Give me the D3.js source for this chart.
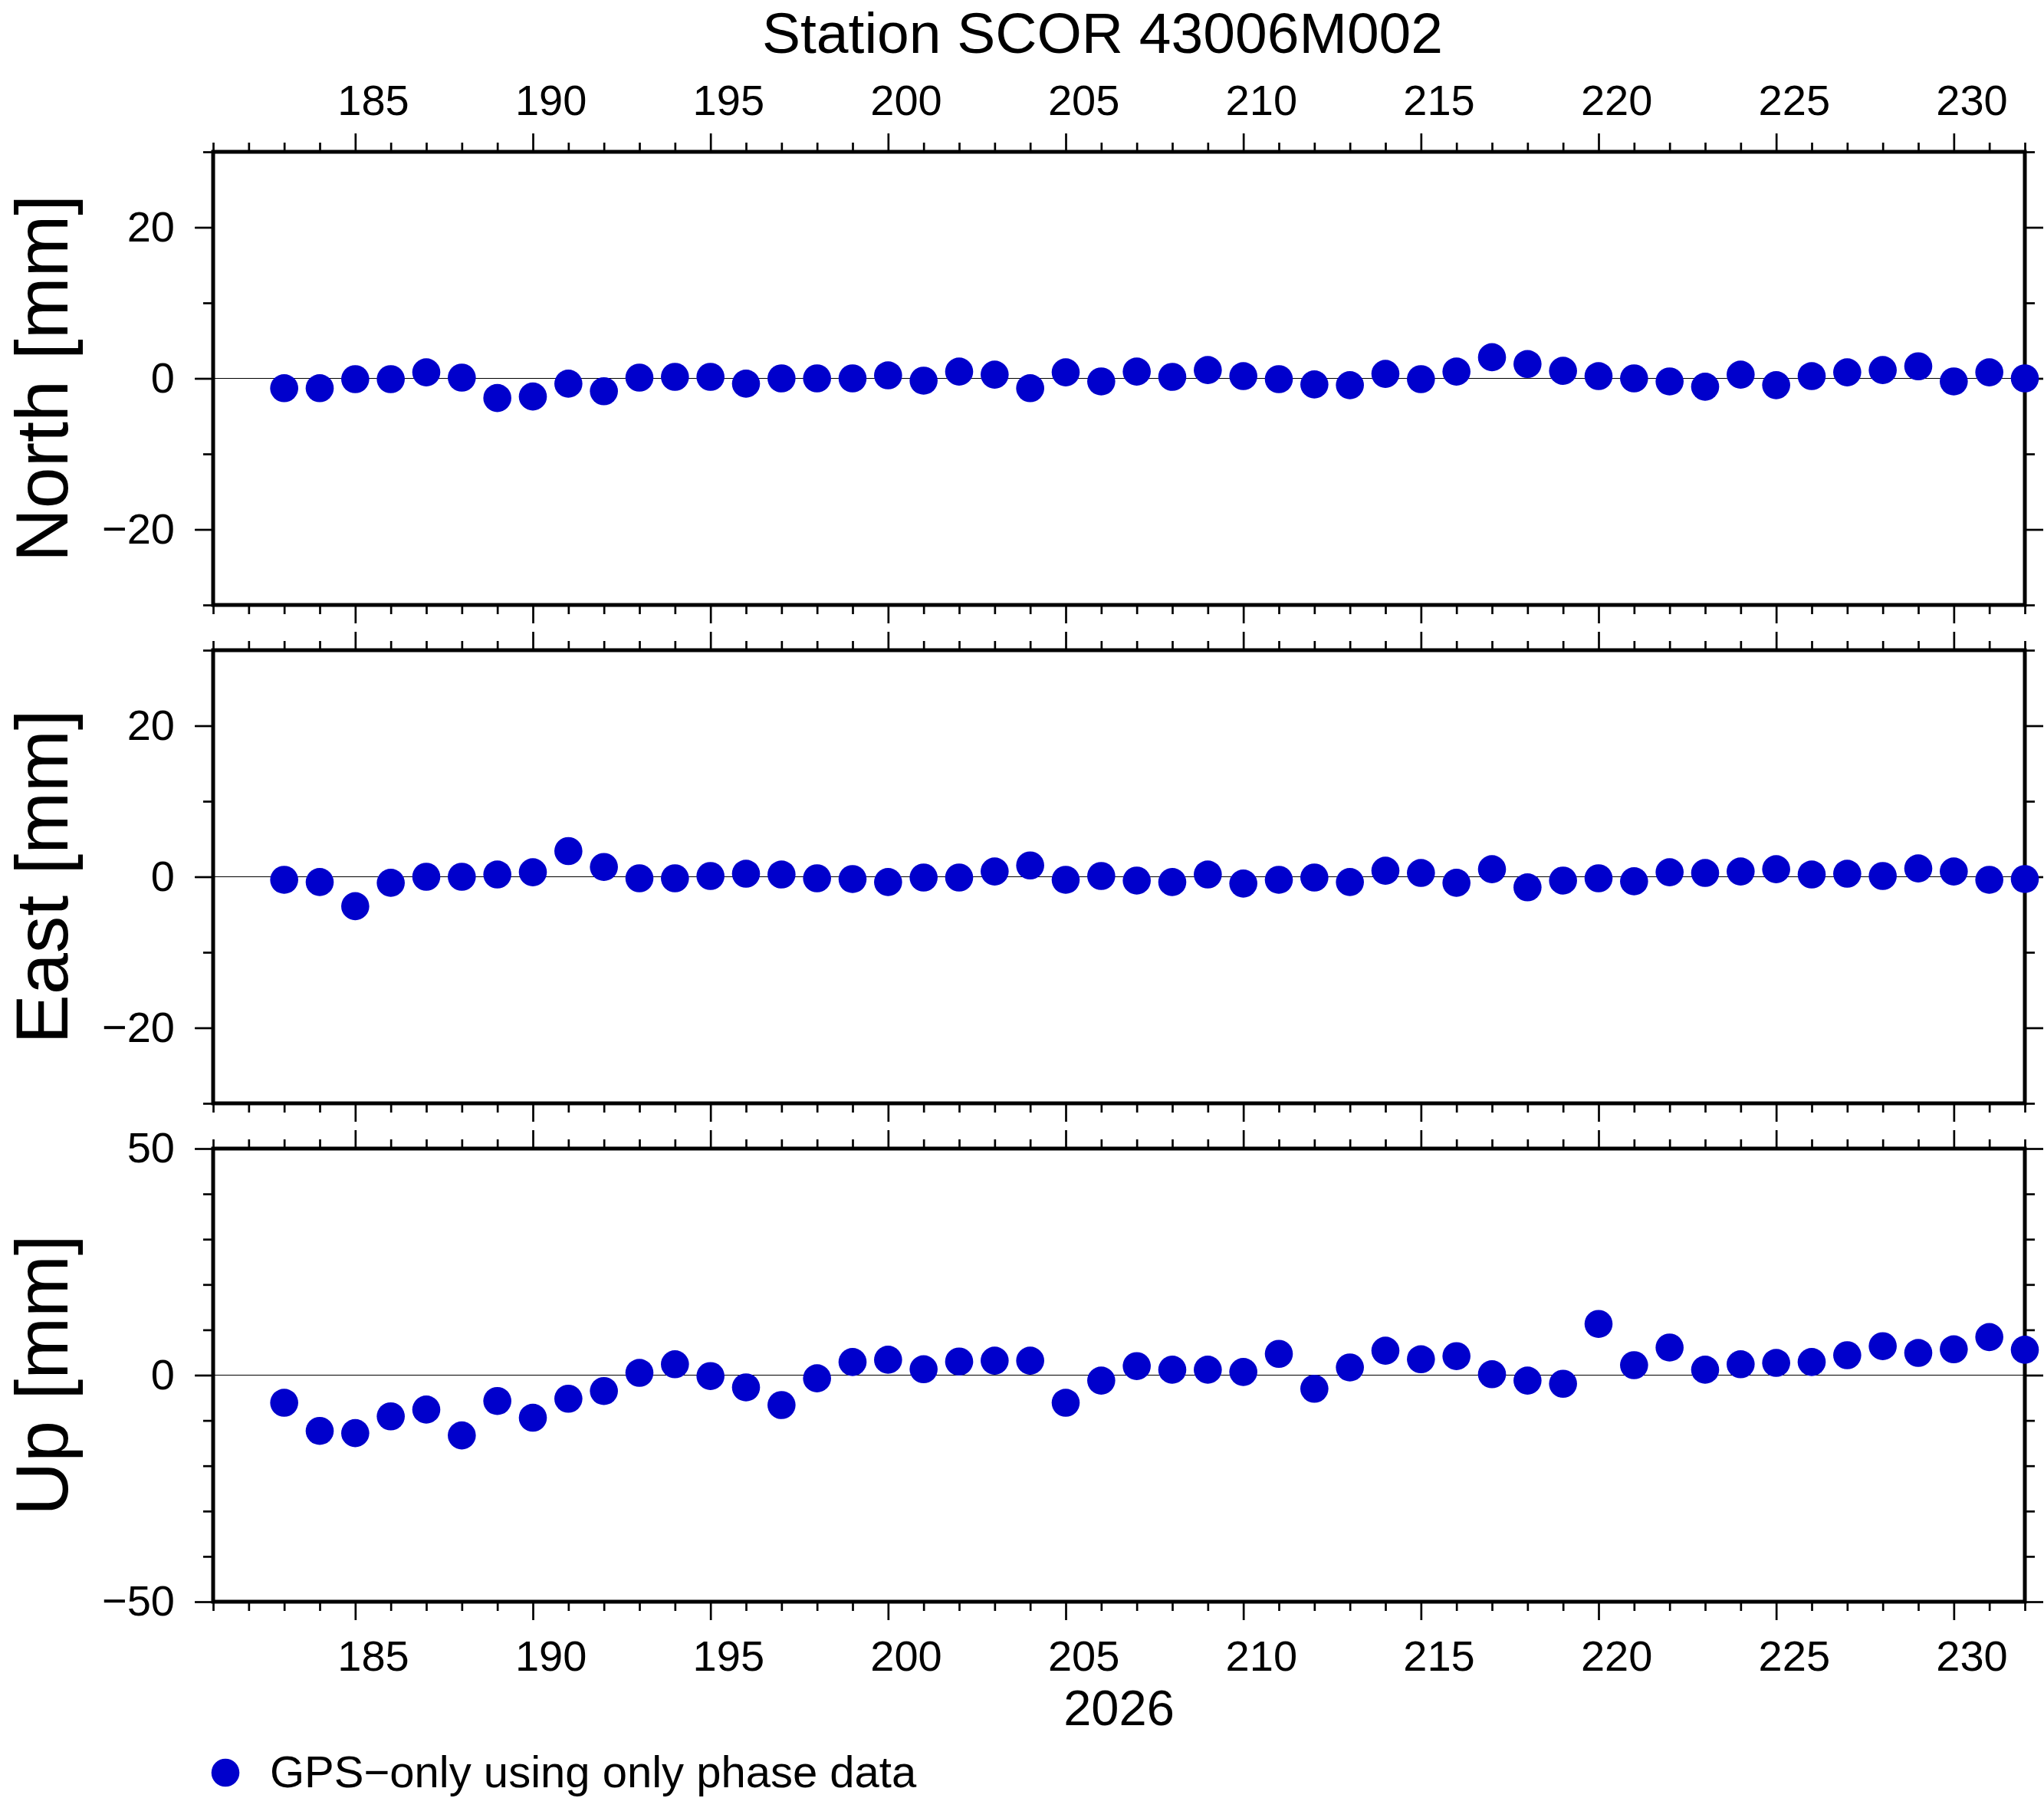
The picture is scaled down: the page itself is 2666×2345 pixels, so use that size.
<!DOCTYPE html>
<html>
<head>
<meta charset="utf-8">
<script src="https://cdn.jsdelivr.net/npm/d3@7/dist/d3.min.js"></script>
<style>
  html, body { margin: 0; padding: 0; background: #ffffff; }
  svg { display: block; }
  text { font-family: "Liberation Sans", Arial, Helvetica, sans-serif; fill: #000; }
</style>
</head>
<body>
<script>
// ---------------- DATA ----------------
const title = "Station SCOR 43006M002";
const yearLabel = "2026";
const legendLabel = "GPS\u2212only using only phase data";

const days = [183,184,185,186,187,188,189,190,191,192,193,194,195,196,197,198,199,200,201,202,
              203,204,205,206,207,208,209,210,211,212,213,214,215,216,217,218,219,220,221,222,
              223,224,225,226,227,228,229,230,231,232];

const north = [-1.3,-1.3,-0.1,-0.1,0.8,0.1,-2.6,-2.4,-0.7,-1.7,0.1,0.2,0.2,-0.7,0.0,0.0,0.0,0.4,-0.3,0.9,
               0.5,-1.3,0.8,-0.4,0.9,0.2,1.1,0.3,-0.1,-0.8,-0.9,0.6,-0.1,0.9,2.8,1.9,1.0,0.3,0.0,-0.4,
               -1.1,0.5,-0.9,0.3,0.8,1.1,1.6,-0.4,0.8,0.0];

const east = [-0.4,-0.7,-3.9,-0.8,0.0,0.0,0.3,0.6,3.4,1.3,-0.2,-0.2,0.1,0.4,0.3,-0.2,-0.3,-0.7,-0.1,-0.1,
              0.7,1.5,-0.4,0.1,-0.5,-0.7,0.3,-0.9,-0.4,-0.1,-0.7,0.8,0.5,-0.8,1.0,-1.4,-0.5,-0.2,-0.6,0.6,
              0.5,0.7,1.0,0.3,0.4,0.1,1.1,0.7,-0.4,-0.3];

const up = [-6.1,-12.3,-12.8,-9.1,-7.6,-13.3,-5.7,-9.4,-5.2,-3.5,0.5,2.4,-0.2,-2.7,-6.6,-0.7,2.9,3.4,1.3,3.0,
            3.2,3.2,-6.1,-1.2,2.0,1.2,1.2,0.7,4.7,-3.0,1.7,5.4,3.5,4.2,0.2,-1.2,-1.9,11.3,2.2,6.1,
            1.2,2.4,2.7,2.9,4.4,6.4,4.9,5.7,8.4,5.6];

const panelNames = ["North [mm]", "East [mm]", "Up [mm]"];
const panelDomains = [[-30, 30], [-30, 30], [-50, 50]];
const majorY = [[-20, 0, 20], [-20, 0, 20], [-50, 0, 50]];
const minorY = [[-30, -10, 10, 30], [-30, -10, 10, 30], [-40, -30, -20, -10, 10, 20, 30, 40]];
const xDomain = [181, 232];
const xMajorTicks = [185,190,195,200,205,210,215,220,225,230];
const xMinorTicks = [181,182,183,184,186,187,188,189,191,192,193,194,196,197,198,199,201,202,203,204,
                     206,207,208,209,211,212,213,214,216,217,218,219,221,222,223,224,226,227,228,229,231,232];
const seriesList = [north, east, up];

// ---------------- LAYOUT ----------------
const W = 2666, H = 2345;
const left = 278, right = 2641;
const panelTops = [198, 848, 1498];
const panelH = 591;
const dotColor = "#0000cc";
const dotR = 18.3;
const tickFont = 56;

const svg = d3.select("body").append("svg")
  .attr("width", W).attr("height", H)
  .attr("viewBox", `0 0 ${W} ${H}`);
svg.append("rect").attr("width", W).attr("height", H).attr("fill", "#fff");

const x = d3.scaleLinear().domain(xDomain).range([left, right]);

function styleAxis(g) {
  g.select(".domain").remove();
  g.selectAll(".tick line").attr("stroke", "#000").attr("stroke-width", 2.7);
  g.selectAll(".tick text").attr("font-size", tickFont)
    .attr("font-family", '"Liberation Sans", Arial, Helvetica, sans-serif').attr("fill", "#000");
}

panelTops.forEach((top, i) => {
  const bottom = top + panelH;
  const y = d3.scaleLinear().domain(panelDomains[i]).range([bottom, top]);
  const g = svg.append("g");

  // zero line
  g.append("line")
    .attr("x1", left).attr("x2", right)
    .attr("y1", y(0)).attr("y2", y(0))
    .attr("stroke", "#000").attr("stroke-width", 1.2);

  // Y axes left
  g.append("g").attr("transform", `translate(${left},0)`)
    .call(d3.axisLeft(y).tickValues(minorY[i]).tickSize(13).tickFormat(""))
    .call(styleAxis);
  g.append("g").attr("transform", `translate(${left},0)`)
    .call(d3.axisLeft(y).tickValues(majorY[i]).tickSize(24).tickPadding(26)
      .tickFormat(d => d < 0 ? "\u2212" + Math.abs(d) : String(d)))
    .call(styleAxis);
  // Y axes right
  g.append("g").attr("transform", `translate(${right},0)`)
    .call(d3.axisRight(y).tickValues(minorY[i]).tickSize(13).tickFormat(""))
    .call(styleAxis);
  g.append("g").attr("transform", `translate(${right},0)`)
    .call(d3.axisRight(y).tickValues(majorY[i]).tickSize(24).tickFormat(""))
    .call(styleAxis);

  // X ticks top
  g.append("g").attr("transform", `translate(0,${top})`)
    .call(d3.axisTop(x).tickValues(xMinorTicks).tickSize(12).tickFormat(""))
    .call(styleAxis);
  g.append("g").attr("transform", `translate(0,${top})`)
    .call(d3.axisTop(x).tickValues(xMajorTicks).tickSize(24).tickFormat(""))
    .call(styleAxis);
  // X ticks bottom
  g.append("g").attr("transform", `translate(0,${bottom})`)
    .call(d3.axisBottom(x).tickValues(xMinorTicks).tickSize(12).tickFormat(""))
    .call(styleAxis);
  g.append("g").attr("transform", `translate(0,${bottom})`)
    .call(d3.axisBottom(x).tickValues(xMajorTicks).tickSize(24).tickFormat(""))
    .call(styleAxis);

  // Labels centred on day intervals
  const labelPos = xMajorTicks.map(d => d + 0.5);
  if (i === 0) {
    g.append("g").attr("transform", `translate(0,${top})`)
      .call(d3.axisTop(x).tickValues(labelPos).tickSize(0).tickPadding(48).tickFormat(d => String(d - 0.5)))
      .call(styleAxis);
  }
  if (i === panelTops.length - 1) {
    g.append("g").attr("transform", `translate(0,${bottom})`)
      .call(d3.axisBottom(x).tickValues(labelPos).tickSize(0).tickPadding(50).tickFormat(d => String(d - 0.5)))
      .call(styleAxis);
  }

  // frame
  g.append("rect")
    .attr("x", left).attr("y", top)
    .attr("width", right - left).attr("height", panelH)
    .attr("fill", "none").attr("stroke", "#000").attr("stroke-width", 5);

  // points
  g.append("g").selectAll("circle")
    .data(days.map((d, k) => ({ d, v: seriesList[i][k] })))
    .join("circle")
    .attr("cx", p => x(p.d))
    .attr("cy", p => y(p.v))
    .attr("r", dotR)
    .attr("fill", dotColor);

  // y label
  svg.append("text")
    .attr("transform", `translate(88,${(top + bottom) / 2}) rotate(-90)`)
    .attr("text-anchor", "middle")
    .attr("font-size", 97)
    .text(panelNames[i]);
});

// title
svg.append("text")
  .attr("x", 1438).attr("y", 69)
  .attr("text-anchor", "middle")
  .attr("font-size", 75)
  .text(title);

// year label
svg.append("text")
  .attr("x", (left + right) / 2).attr("y", 2250)
  .attr("text-anchor", "middle")
  .attr("font-size", 65)
  .text(yearLabel);

// legend
svg.append("circle").attr("cx", 294).attr("cy", 2312).attr("r", dotR).attr("fill", dotColor);
svg.append("text")
  .attr("x", 352).attr("y", 2331)
  .attr("font-size", 58)
  .text(legendLabel);
</script>
</body>
</html>
